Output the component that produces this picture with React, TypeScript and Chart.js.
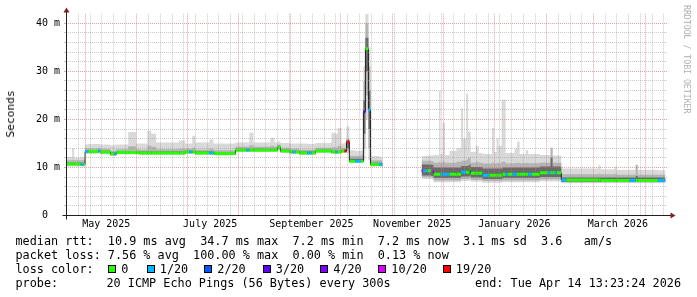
import { useEffect, useRef } from 'react';
import { Chart, registerables } from 'chart.js';

Chart.register(...registerables);

// x values are days counted from 1 May 2025 00:00; y values are milliseconds
const X_MIN = -11.4;
const X_MAX = 348.2;
const Y_MAX = 42;

const days = [
  -11.4, -7.7, -6.5, -2.6, -1.1,
  0, 1.9, 7.9, 9.1, 15.1, 17.5, 18.7, 25.8, 30.6, 32.4, 37.2, 39.6, 42.5, 56.3, 59.9,
  62.3, 64.1, 65.9, 74.3, 76.7, 77.3, 89.9, 96.5, 98.2, 100.6, 110.8, 113.2, 115.0, 116.8, 122.2,
  124.0, 125.8, 128.1, 132.9, 135.3, 137.7, 147.3, 149.7, 150.9, 153.3, 155.1, 156.3,
  158.0, 161.6, 165.0, 166.4, 167.6, 169.4, 170.6, 176.0, 177.8,
  190.0,
  201.2, 202.1, 204.7, 207.1, 208.3, 211.6, 212.5, 213.7, 215.2, 217.9, 222.1, 224.8, 226.0, 227.8,
  229.0, 229.9, 230.5, 233.5, 235.3, 237.6, 241.8, 243.3, 244.5, 246.0, 247.2, 249.0, 249.6, 251.4,
  252.9, 255.6, 256.8, 258.3, 259.8, 263.4, 264.9, 267.0, 271.8, 276.6, 278.3, 279.5, 280.8, 282.0,
  284.7, 287.7, 307.0, 308.2, 316.6, 317.8, 325.6, 329.2, 330.4, 342.4, 346.9,
];

const medianMs = [
  10.7, 10.7, 10.7, 10.6, 10.6,
  13.3, 13.3, 13.4, 13.2, 12.8, 12.8, 13.1, 13.1, 13.1, 13.0, 13.0, 13.0, 13.0, 13.0, 13.2,
  13.2, 13.2, 13.0, 13.0, 13.0, 12.9, 13.6, 13.6, 13.6, 13.6, 13.6, 13.6, 14.2, 13.4, 13.2,
  13.2, 13.2, 13.0, 13.0, 13.0, 13.4, 13.2, 13.2, 13.2, 13.4, 13.4, 15.3,
  11.3, 11.3, 11.3, 21.6, 34.7, 22.0, 10.6, 10.6, 10.6,
  null,
  9.3, 9.3, 9.3, 9.2, 8.6, 8.6, 8.6, 8.6, 8.6, 8.6, 8.6, 9.0, 9.0, 9.0,
  9.0, 9.5, 8.8, 8.8, 8.8, 8.4, 8.4, 8.4, 8.4, 8.4, 8.4, 8.4, 8.6, 8.6,
  8.6, 8.6, 8.6, 8.6, 8.6, 8.6, 8.6, 8.6, 8.9, 8.9, 8.9, 8.9, 8.9, 8.9,
  7.4, 7.4, 7.4, 7.3, 7.3, 7.3, 7.3, 7.3, 7.3, 7.3, 7.3,
];

// index into lossLabels / lossColors
const lossIdx = [
  0, 0, 0, 1, 0,
  1, 0, 1, 0, 0, 1, 0, 0, 0, 0, 0, 0, 0, 0, 0,
  1, 0, 0, 1, 0, 0, 0, 1, 0, 0, 0, 0, 0, 0, 0,
  1, 0, 0, 1, 0, 0, 0, 1, 0, 0, 6, 6,
  0, 1, 0, 3, 0, 1, 0, 1, 1,
  0,
  5, 1, 0, 5, 0, 0, 1, 1, 1, 0, 0, 1, 1, 0,
  0, 0, 0, 0, 0, 1, 0, 0, 0, 0, 0, 0, 0, 1,
  0, 1, 1, 0, 0, 0, 1, 0, 0, 1, 0, 0, 1, 0,
  1, 0, 0, 0, 0, 0, 1, 0, 0, 1, 1,
];

const smokeMin = [
  10.2, 10.2, 10.2, 10.2, 10.2,
  12.8, 12.8, 12.9, 12.7, 12.4, 12.4, 12.7, 12.7, 12.7, 12.6, 12.6, 12.6, 12.6, 12.6, 12.8,
  12.8, 12.8, 12.6, 12.6, 12.6, 12.5, 13.2, 13.2, 13.2, 13.2, 13.2, 13.2, 13.5, 13.0, 12.8,
  12.8, 12.8, 12.6, 12.6, 12.6, 13.0, 12.8, 12.8, 12.8, 13.0, 13.0, 13.0,
  11.0, 11.0, 11.0, 11.5, 20.0, 11.5, 10.2, 10.2, 10.2,
  null,
  7.6, 7.6, 7.6, 7.5, 6.9, 6.9, 6.9, 6.9, 6.9, 6.9, 6.9, 7.2, 7.2, 7.2,
  7.2, 7.4, 7.0, 7.0, 7.0, 6.8, 6.8, 6.8, 6.8, 6.8, 6.8, 6.8, 6.9, 6.9,
  6.9, 6.9, 6.9, 6.9, 6.9, 6.9, 6.9, 6.9, 7.1, 7.1, 7.1, 7.1, 7.1, 7.1,
  6.7, 6.7, 6.7, 6.7, 6.7, 6.7, 6.7, 6.7, 6.7, 6.7, 6.7,
];

const smokeLo = [
  10.4, 10.4, 10.4, 10.4, 10.4,
  13.0, 13.0, 13.1, 12.9, 12.6, 12.6, 12.9, 12.9, 12.9, 12.8, 12.8, 12.8, 12.8, 12.8, 13.0,
  13.0, 13.0, 12.8, 12.8, 12.8, 12.7, 13.4, 13.4, 13.4, 13.4, 13.4, 13.4, 13.8, 13.2, 13.0,
  13.0, 13.0, 12.8, 12.8, 12.8, 13.2, 13.0, 13.0, 13.0, 13.2, 13.2, 13.5,
  11.2, 11.2, 11.2, 14.0, 25.0, 14.0, 10.4, 10.4, 10.4,
  null,
  8.0, 8.0, 8.0, 7.9, 7.3, 7.3, 7.3, 7.3, 7.3, 7.3, 7.3, 7.6, 7.6, 7.6,
  7.6, 7.8, 7.4, 7.4, 7.4, 7.2, 7.2, 7.2, 7.2, 7.2, 7.2, 7.2, 7.3, 7.3,
  7.3, 7.3, 7.3, 7.3, 7.3, 7.3, 7.3, 7.3, 7.5, 7.5, 7.5, 7.5, 7.5, 7.5,
  6.9, 6.9, 6.9, 6.9, 6.9, 6.9, 6.9, 6.9, 6.9, 6.9, 6.9,
];

const coreLo = [
  10.5, 10.5, 10.5, 10.5, 10.5,
  13.1, 13.1, 13.2, 13.0, 12.6, 12.6, 12.9, 12.9, 12.9, 12.8, 12.8, 12.8, 12.8, 12.8, 13.0,
  13.0, 13.0, 12.8, 12.8, 12.8, 12.7, 13.4, 13.4, 13.4, 13.4, 13.4, 13.4, 13.9, 13.2, 13.0,
  13.0, 13.0, 12.8, 12.8, 12.8, 13.2, 13.0, 13.0, 13.0, 13.2, 13.2, 14.0,
  11.2, 11.2, 11.2, 17.0, 30.0, 18.0, 10.4, 10.4, 10.4,
  null,
  8.3, 8.3, 8.3, 8.2, 7.8, 7.8, 7.8, 7.8, 7.8, 7.8, 7.8, 8.1, 8.1, 8.1,
  8.1, 8.3, 7.9, 7.9, 7.9, 7.6, 7.6, 7.6, 7.6, 7.6, 7.6, 7.6, 7.8, 7.8,
  7.8, 7.8, 7.8, 7.8, 7.8, 7.8, 7.8, 7.8, 8.0, 8.0, 8.0, 8.0, 8.0, 8.0,
  7.0, 7.0, 7.0, 7.0, 7.0, 7.0, 7.0, 7.0, 7.0, 7.0, 7.0,
];

const coreHi = [
  11.0, 11.0, 11.0, 11.0, 11.0,
  13.6, 13.6, 13.7, 13.5, 13.1, 13.1, 13.4, 13.4, 13.4, 13.3, 13.3, 13.3, 13.3, 13.3, 13.5,
  13.5, 13.5, 13.3, 13.3, 13.3, 13.2, 13.9, 13.9, 13.9, 13.9, 13.9, 13.9, 14.5, 13.7, 13.5,
  13.5, 13.5, 13.3, 13.3, 13.3, 13.7, 13.5, 13.5, 13.5, 13.7, 13.7, 15.7,
  11.8, 11.8, 11.8, 24.0, 37.0, 26.0, 11.0, 11.0, 11.0,
  null,
  10.6, 10.6, 10.6, 10.5, 10.0, 10.0, 10.0, 10.0, 10.0, 10.0, 10.0, 10.3, 10.3, 10.3,
  10.4, 10.6, 10.1, 10.1, 10.1, 9.8, 9.8, 9.8, 9.8, 9.8, 9.8, 9.8, 10.0, 10.0,
  10.0, 10.0, 10.0, 10.0, 10.0, 10.0, 10.0, 10.0, 10.2, 10.2, 12.0, 10.2, 10.2, 10.2,
  7.9, 7.9, 7.9, 7.9, 7.9, 7.9, 7.9, 8.2, 7.9, 7.9, 7.9,
];

const smokeHi = [
  11.5, 11.6, 11.5, 11.5, 11.5,
  14.0, 14.0, 14.1, 13.9, 13.5, 13.5, 13.8, 14.4, 13.8, 13.7, 14.5, 14.3, 13.8, 13.9, 13.9,
  13.9, 14.1, 13.7, 13.9, 13.7, 13.6, 14.3, 14.3, 14.6, 14.3, 14.5, 14.3, 14.8, 14.1, 13.9,
  13.9, 13.9, 13.7, 13.7, 13.7, 14.1, 14.2, 14.1, 14.5, 14.1, 14.1, 16.0,
  12.4, 12.4, 12.6, 28.0, 40.0, 31.0, 11.5, 11.5, 11.5,
  null,
  11.4, 11.4, 11.4, 11.3, 11.0, 11.2, 11.0, 11.2, 11.0, 11.0, 11.2, 11.4, 11.4, 11.6,
  12.0, 12.0, 11.0, 11.2, 11.0, 10.8, 10.8, 11.0, 10.8, 11.0, 10.9, 11.2, 11.2, 10.9,
  10.9, 10.9, 11.0, 11.0, 10.9, 11.0, 10.9, 10.9, 11.0, 11.0, 14.0, 11.0, 11.0, 11.0,
  8.6, 8.6, 8.7, 8.6, 8.7, 8.5, 8.5, 10.5, 8.5, 8.5, 8.5,
];

const smokeMax = [
  12.2, 14.0, 12.0, 12.1, 12.1,
  14.8, 14.9, 14.9, 14.8, 14.6, 14.7, 14.8, 17.4, 15.0, 15.0, 17.6, 17.0, 15.2, 15.6, 15.0,
  15.0, 16.6, 15.2, 15.8, 15.0, 15.0, 15.2, 15.2, 17.2, 15.2, 16.2, 15.2, 15.4, 15.1, 15.0,
  15.0, 15.0, 15.0, 14.9, 14.9, 15.1, 17.2, 17.0, 18.2, 15.0, 15.2, 18.5,
  13.6, 13.4, 13.6, 31.0, 42.0, 35.0, 12.4, 12.2, 12.2,
  null,
  12.4, 12.4, 12.5, 12.5, 12.6, 26.0, 12.8, 19.3, 12.6, 13.5, 14.0, 22.3, 16.0, 25.4,
  17.5, 17.5, 13.2, 14.5, 13.0, 12.8, 12.8, 18.2, 13.2, 16.1, 14.5, 24.1, 24.1, 13.0,
  13.0, 13.0, 13.9, 15.4, 12.8, 13.6, 12.8, 12.8, 12.6, 12.6, 14.2, 12.5, 12.5, 12.5,
  9.8, 9.8, 10.5, 9.6, 10.2, 9.5, 9.5, 10.6, 9.5, 9.4, 9.4,
];

const lossLabels = ['0', '1/20', '2/20', '3/20', '4/20', '10/20', '19/20'];
const lossColors = ['#26ff00', '#00b8ff', '#0059ff', '#5e00ff', '#7e00ff', '#dd00ff', '#ff0000'];

// axis ticks (days from 1 May 2025)
const monthStartDays = [0, 31, 61, 92, 123, 153, 184, 214, 245, 276, 304, 335];
const firstWeekStartDay = -11; // Sunday 20 April 2025
const monthLabelDays = [12.7, 74.8, 135.3, 195.6, 256.7, 318.5];
const monthLabels = ['May 2025', 'July 2025', 'September 2025', 'November 2025', 'January 2026', 'March 2026'];
const yGridMs = [0, 2, 4, 6, 8, 10, 12, 14, 16, 18, 20, 22, 24, 26, 28, 30, 32, 34, 36, 38, 40];
const yLabelMs = [0, 10, 20, 30, 40];
const yLabelText = ['0  ', '10 m', '20 m', '30 m', '40 m'];

// legend texts
const rttLine = 'median rtt:  10.9 ms avg  34.7 ms max  7.2 ms min  7.2 ms now  3.1 ms sd  3.6   am/s';
const lossLine = 'packet loss: 7.56 % avg  100.00 % max  0.00 % min  0.13 % now';
const probeText = ['probe:', '20 ICMP Echo Pings (56 Bytes) every 300s'];
const endText = 'end: Tue Apr 14 13:23:24 2026';

const MONO = "'DejaVu Sans Mono', monospace";
const MINOR_GRID = 'rgba(150,150,150,0.5)';
const MAJOR_GRID = 'rgba(224,96,96,0.6)';
const CLEAR = 'rgba(0,0,0,0)';

function buildConfig() {
  const pts = (arr: (number | null)[]) => days.map((d, i) => ({ x: d, y: arr[i] }));

  const bandPts: { x: number; y: number | null }[] = [];
  const bandLoss: number[] = [];
  for (let i = 0; i < days.length - 1; i++) {
    const a = medianMs[i];
    const b = medianMs[i + 1];
    if (a == null || b == null) {
      bandPts.push({ x: days[i], y: null });
      bandLoss.push(0);
      continue;
    }
    bandPts.push({ x: days[i], y: a }, { x: days[i + 1], y: a });
    bandLoss.push(lossIdx[i], lossIdx[i]);
  }

  const xTickValues: number[] = [];
  for (let d = firstWeekStartDay; d <= X_MAX; d += 7) {
    if (!monthStartDays.some((m) => Math.abs(m - d) < 0.01)) xTickValues.push(d);
  }
  monthStartDays.forEach((m) => xTickValues.push(m));
  monthLabelDays.forEach((m) => xTickValues.push(m));
  xTickValues.sort((p, q) => p - q);

  const base = {
    pointRadius: 0,
    pointHoverRadius: 0,
    tension: 0,
    spanGaps: false,
  };
  const smoke = (lo: (number | null)[], hi: (number | null)[], color: string, loIndex: number, order: number) => [
    { ...base, data: pts(lo), stepped: 'before', borderColor: CLEAR, borderWidth: 0, fill: false, order },
    {
      ...base,
      data: pts(hi),
      stepped: 'before',
      borderColor: CLEAR,
      borderWidth: 0,
      backgroundColor: color,
      fill: { target: loIndex, above: color, below: color },
      order,
    },
  ];

  const datasets: any[] = [
    {
      ...base,
      data: bandPts,
      borderWidth: 3,
      borderColor: lossColors[0],
      borderCapStyle: 'butt',
      fill: false,
      order: 0,
      segment: {
        borderColor: (c: any) =>
          c.p0.parsed.x === c.p1.parsed.x ? CLEAR : lossColors[bandLoss[c.p0DataIndex]],
      },
    },
    { ...base, data: pts(medianMs), stepped: 'before', borderColor: '#202020', borderWidth: 1, fill: false, order: 1 },
    ...smoke(smokeMin, smokeMax, '#d9d9d9', 2, 10),
    ...smoke(smokeLo, smokeHi, '#b4b4b4', 4, 8),
    ...smoke(coreLo, coreHi, '#6a6a6a', 6, 6),
  ];

  const axesPlugin = {
    id: 'rrdAxes',
    afterDraw(chart: any) {
      const { ctx, chartArea: a } = chart;
      const x0 = Math.round(a.left) + 0.5;
      const y0 = Math.round(a.bottom - 0.5) + 0.5;
      const xr = Math.round(a.right) + 0.5;
      const yt = Math.round(a.top) + 0.5;
      ctx.save();
      ctx.strokeStyle = '#1f1f1f';
      ctx.lineWidth = 1;
      ctx.beginPath();
      ctx.moveTo(x0 - 4, y0);
      ctx.lineTo(xr + 4, y0);
      ctx.moveTo(x0, y0 + 4);
      ctx.lineTo(x0, yt - 4);
      ctx.stroke();
      ctx.fillStyle = '#801f1f';
      ctx.beginPath();
      ctx.moveTo(xr + 2, y0 - 3);
      ctx.lineTo(xr + 2, y0 + 3);
      ctx.lineTo(xr + 7, y0);
      ctx.closePath();
      ctx.fill();
      ctx.beginPath();
      ctx.moveTo(x0 - 3, yt - 2);
      ctx.lineTo(x0 + 3, yt - 2);
      ctx.lineTo(x0, yt - 7);
      ctx.closePath();
      ctx.fill();
      ctx.restore();
    },
  };

  const gridColorY = (c: any) => {
    const v = c.tick ? c.tick.value : null;
    if (v == null) return CLEAR;
    return yLabelMs.includes(v) ? MAJOR_GRID : MINOR_GRID;
  };

  return {
    type: 'line',
    data: { datasets },
    plugins: [axesPlugin],
    options: {
      responsive: false,
      animation: false,
      devicePixelRatio: 1,
      events: [],
      layout: { autoPadding: false, padding: { left: 0, top: 13.7, right: 29.5, bottom: 61.5 } },
      plugins: {
        legend: { display: false },
        tooltip: { enabled: false },
        title: { display: false },
        filler: { propagate: false },
      },
      scales: {
        x: {
          type: 'linear',
          min: X_MIN,
          max: X_MAX,
          afterBuildTicks: (s: any) => {
            s.ticks = xTickValues.map((v) => ({ value: v }));
          },
          afterFit: (s: any) => {
            s.height = 20;
          },
          grid: {
            z: 1,
            lineWidth: 1,
            drawTicks: false,
            color: (c: any) => {
              const v = c.tick ? c.tick.value : null;
              if (v == null || monthLabelDays.includes(v)) return CLEAR;
              return monthStartDays.includes(v) ? MAJOR_GRID : MINOR_GRID;
            },
          },
          border: { display: false, dash: [1, 1] },
          ticks: {
            autoSkip: false,
            maxRotation: 0,
            minRotation: 0,
            padding: 3,
            color: '#000',
            font: { family: MONO, size: 10 },
            callback: (v: number) => {
              const k = monthLabelDays.indexOf(v);
              return k >= 0 ? monthLabels[k] : '';
            },
          },
        },
        y: {
          type: 'linear',
          min: 0,
          max: Y_MAX,
          afterBuildTicks: (s: any) => {
            s.ticks = yGridMs.map((v) => ({ value: v }));
          },
          afterFit: (s: any) => {
            s.width = 66;
          },
          grid: {
            z: 1,
            lineWidth: 1,
            drawTicks: true,
            tickLength: 2,
            color: gridColorY,
            tickColor: gridColorY,
          },
          border: { display: false, dash: [1, 1] },
          ticks: {
            autoSkip: false,
            padding: 4,
            color: '#000',
            font: { family: MONO, size: 10 },
            callback: (v: number) => {
              const k = yLabelMs.indexOf(v);
              return k >= 0 ? yLabelText[k] : '';
            },
          },
        },
      },
    },
  };
}

const boxX = [108, 146.5, 204, 262.5, 320, 378, 442.5];

const textBase: any = {
  position: 'absolute',
  fontFamily: MONO,
  fontSize: '11.8px',
  lineHeight: '14px',
  color: '#000',
  whiteSpace: 'pre',
  margin: 0,
};

export default function App() {
  const ref = useRef<HTMLCanvasElement>(null);
  useEffect(() => {
    const chart = new Chart(ref.current as HTMLCanvasElement, buildConfig() as any);
    return () => chart.destroy();
  }, []);

  return (
    <div style={{ position: 'fixed', left: 0, top: 0, width: 697, height: 297, background: '#fff', overflow: 'hidden' }}>
      <canvas ref={ref} width={697} height={297} style={{ position: 'absolute', left: 0, top: 0, width: 697, height: 297 }} />
      <div
        style={{
          position: 'absolute',
          left: 11,
          top: 114,
          transform: 'translate(-50%, -50%) rotate(-90deg)',
          fontFamily: MONO,
          fontSize: '11.2px',
          lineHeight: '12px',
          whiteSpace: 'nowrap',
          color: '#000',
        }}
      >
        Seconds
      </div>
      <div
        style={{
          position: 'absolute',
          left: 682,
          top: 5,
          writingMode: 'vertical-rl',
          fontFamily: MONO,
          fontSize: '8.2px',
          lineHeight: '10px',
          color: '#b0b0b0',
          whiteSpace: 'nowrap',
        }}
      >
        RRDTOOL / TOBI OETIKER
      </div>
      <span style={{ ...textBase, left: 15.5, top: 233.5 }}>{rttLine}</span>
      <span style={{ ...textBase, left: 15.5, top: 247.5 }}>{lossLine}</span>
      <span style={{ ...textBase, left: 15.5, top: 261.5 }}>loss color:</span>
      {lossLabels.map((t, i) => (
        <span key={'b' + i}>
          <span
            style={{
              position: 'absolute',
              left: boxX[i],
              top: 265,
              width: 8,
              height: 8,
              boxSizing: 'border-box',
              border: '1px solid #000',
              background: lossColors[i],
            }}
          />
          <span style={{ ...textBase, left: boxX[i] + 13.3, top: 261.5 }}>{t}</span>
        </span>
      ))}
      <span style={{ ...textBase, left: 15.5, top: 275.5 }}>{probeText[0]}</span>
      <span style={{ ...textBase, left: 106.5, top: 275.5 }}>{probeText[1]}</span>
      <span style={{ ...textBase, right: 16, top: 275.5 }}>{endText}</span>
    </div>
  );
}
